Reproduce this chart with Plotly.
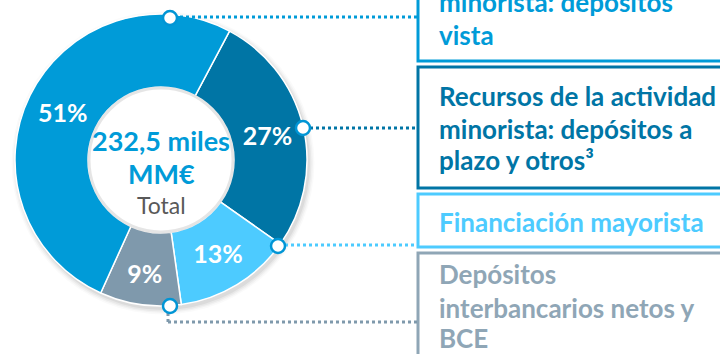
import plotly.graph_objects as go

# Funding structure (share of total, %)
categories = [
    "Recursos de la actividad minorista: depósitos a plazo y otros",
    "Financiación mayorista",
    "Depósitos interbancarios netos y BCE",
    "Recursos de la actividad minorista: depósitos vista",
]
shares = [27, 13, 9, 51]
colors = ["#0075A5", "#4DCBFF", "#7F99AC", "#009BD8"]
total_text = ["232,5 miles", "MM€"]
total_caption = "Total"

W, H = 720, 354
cx, cy, R = 161, 160, 146
r_hole = R * 0.5

fig = go.Figure()

fig.add_trace(go.Pie(
    values=shares,
    labels=categories,
    marker=dict(colors=colors, line=dict(color="white", width=1.5)),
    hole=0.5,
    sort=False,
    direction="clockwise",
    rotation=28,
    texttemplate="%{value}%",
    textposition="inside",
    insidetextorientation="horizontal",
    textfont=dict(family="Lato", size=25, color="white", weight="bold"),
    domain=dict(x=[(cx - R) / W, (cx + R) / W], y=[(H - cy - R) / H, (H - cy + R) / H]),
    showlegend=False,
    hoverinfo="label+percent",
))

shapes = []
# soft shadow around the ring
for i, a in enumerate([0.05, 0.04, 0.03, 0.02]):
    r = R + 1 + i * 1.5
    shapes.append(dict(type="circle", xref="x", yref="y", layer="below",
                       x0=cx + 2 - r, x1=cx + 2 + r, y0=cy + 3 - r, y1=cy + 3 + r,
                       line=dict(width=0), fillcolor=f"rgba(0,0,0,{a})"))
# keep the hole white, with a faint edge
shapes.append(dict(type="circle", xref="x", yref="y", layer="below",
                   x0=cx - r_hole, x1=cx + r_hole, y0=cy - r_hole, y1=cy + r_hole,
                   line=dict(width=0), fillcolor="white"))
shapes.append(dict(type="circle", xref="x", yref="y", layer="above",
                   x0=cx - r_hole + 1, x1=cx + r_hole - 1, y0=cy - r_hole + 1, y1=cy + r_hole - 1,
                   line=dict(color="rgba(0,0,0,0.10)", width=3)))

# legend boxes on the right
boxes = [(-10, 61, "#009BD8"), (67, 188, "#0075A5"), (194, 247, "#4DCBFF"), (253, 380, "#8FA6B6")]
for y0, y1, c in boxes:
    shapes.append(dict(type="rect", xref="x", yref="y", x0=418, x1=740, y0=y0, y1=y1,
                       line=dict(color=c, width=3), fillcolor="white"))

# dotted connectors
connectors = [
    [(180, 17), (418, 17), "#009BD8"],
    [(310, 128), (418, 128), "#0075A5"],
    [(285, 245), (418, 245), "#4DCBFF"],
    [(168, 313), (168, 322), "#7F99AC"],
    [(168, 322), (418, 322), "#7F99AC"],
]
for (x0, y0), (x1, y1), c in connectors:
    shapes.append(dict(type="line", xref="x", yref="y", x0=x0, y0=y0, x1=x1, y1=y1,
                       line=dict(color=c, width=3, dash="dot")))

# connector end dots on the ring
dot_x = [170, 303, 278, 170]
dot_y = [18, 128, 246, 306]
for x, y in zip(dot_x, dot_y):
    shapes.append(dict(type="circle", xref="x", yref="y", layer="above",
                       x0=x - 1.5, x1=x + 5, y0=y - 1, y1=y + 5.5,
                       line=dict(width=0), fillcolor="rgba(0,0,0,0.14)"))
    shapes.append(dict(type="circle", xref="x", yref="y", layer="above",
                       x0=x - 7, x1=x + 7, y0=y - 7, y1=y + 7,
                       line=dict(color="#0095D5", width=2.5), fillcolor="white"))

fig.update_layout(shapes=shapes)

annotations = []
bold = dict(family="Lato", size=26, weight="bold")
box_lines = [
    ("Recursos de la actividad", -23, "#009BD8"),
    ("minorista: depósitos", 2, "#009BD8"),
    ("vista", 35, "#009BD8"),
    ("Recursos de la actividad", 96, "#0075A5"),
    ("minorista: depósitos a", 129, "#0075A5"),
    ("plazo y otros³", 160, "#0075A5"),
    ("Financiación mayorista", 222, "#4DCBFF"),
    ("Depósitos", 274, "#8FA6B6"),
    ("interbancarios netos y", 308, "#8FA6B6"),
    ("BCE", 338, "#8FA6B6"),
]
for txt, y, c in box_lines:
    annotations.append(dict(x=437, y=y, xref="x", yref="y", text=txt, showarrow=False,
                            xanchor="left", yanchor="middle",
                            font=dict(bold, color=c)))

annotations.append(dict(x=cx, y=140, xref="x", yref="y", text=total_text[0], showarrow=False,
                        font=dict(family="Lato", size=27, weight="bold", color="#009BD8")))
annotations.append(dict(x=cx, y=173, xref="x", yref="y", text=total_text[1], showarrow=False,
                        font=dict(family="Lato", size=27, weight="bold", color="#009BD8")))
annotations.append(dict(x=cx, y=205, xref="x", yref="y", text=total_caption, showarrow=False,
                        font=dict(family="Lato", size=23, color="#595959")))

fig.update_layout(
    width=W, height=H,
    margin=dict(l=0, r=0, t=0, b=0),
    paper_bgcolor="white", plot_bgcolor="rgba(0,0,0,0)",
    xaxis=dict(range=[0, W], visible=False, fixedrange=True),
    yaxis=dict(range=[H, 0], visible=False, fixedrange=True),
    annotations=annotations,
)

fig.write_html("out.html")
